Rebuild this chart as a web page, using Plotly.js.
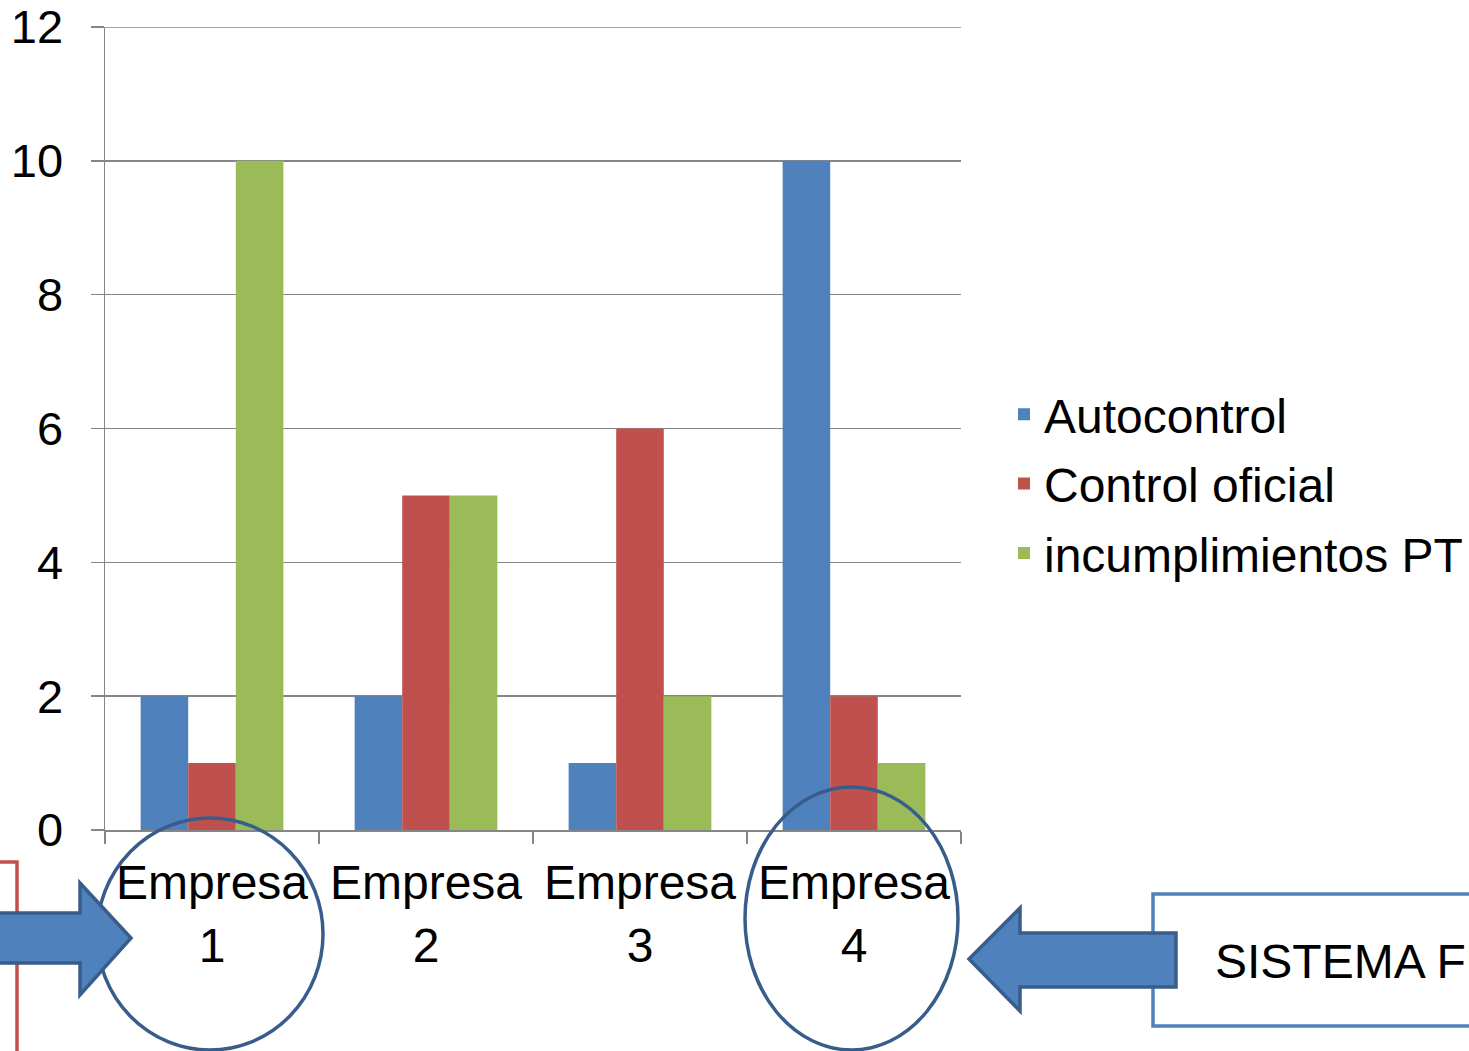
<!DOCTYPE html>
<html>
<head>
<meta charset="utf-8">
<script src="https://cdn.plot.ly/plotly-3.0.1.min.js"></script>
<style>html,body{margin:0;padding:0;background:#fff;}#chart{width:1469px;height:1051px;}</style>
</head>
<body>
<div id="chart"></div>
<script>
const categories = ["Empresa<br>1", "Empresa<br>2", "Empresa<br>3", "Empresa<br>4"];
const seriesNames = ["Autocontrol", "Control oficial", "incumplimientos PT"];
const autocontrol = [2, 2, 1, 10];
const controlOficial = [1, 5, 6, 2];
const incumplimientos = [10, 5, 2, 1];
const yTicks = [0, 2, 4, 6, 8, 10, 12];
const boxText = "SISTEMA FU";

const W = 1469, H = 1051;
const L = 105, R = 961, T = 27, B = 830;
const px = x => (x - L) / (R - L);
const py = y => (B - y) / (B - T);
const poly = pts => pts.map((p, i) => (i ? "L" : "M") + px(p[0]).toFixed(5) + "," + py(p[1]).toFixed(5)).join(" ") + " Z";

const font = "Liberation Sans, Arial, sans-serif";
const colors = ["#4F81BD", "#C0504D", "#9BBB59"];
const values = [autocontrol, controlOficial, incumplimientos];

const data = seriesNames.map((n, i) => ({
  type: "bar", name: n, x: categories, y: values[i], legendgroup: "g" + i,
  marker: {color: colors[i], line: {width: 0}}
}));

const dark = "#385D8A";
const grid = "#868686";
const shapes = [
  {type: "line", xref: "paper", yref: "y", x0: 0, x1: 1, y0: yTicks[yTicks.length - 1], y1: yTicks[yTicks.length - 1],
   layer: "below", line: {color: grid, width: 1.5}},
  {type: "path", xref: "paper", yref: "paper", layer: "above",
   path: "M" + px(0) + "," + py(862) + " L" + px(17) + "," + py(862) + " L" + px(17) + "," + py(1070),
   line: {color: "#C0504D", width: 3.5}, fillcolor: "rgba(0,0,0,0)"},
  {type: "circle", xref: "paper", yref: "paper", layer: "above",
   x0: px(97), x1: px(323), y0: py(818), y1: py(1050),
   line: {color: dark, width: 3.5}, fillcolor: "rgba(0,0,0,0)"},
  {type: "circle", xref: "paper", yref: "paper", layer: "above",
   x0: px(745), x1: px(958), y0: py(787), y1: py(1050),
   line: {color: dark, width: 3.5}, fillcolor: "rgba(0,0,0,0)"},
  {type: "path", xref: "paper", yref: "paper", layer: "above",
   path: poly([[-10,913],[80,913],[80,883],[131,938],[80,995],[80,963],[-10,963]]),
   line: {color: dark, width: 3.5}, fillcolor: "#4F81BD"},
  {type: "rect", xref: "paper", yref: "paper", layer: "above",
   x0: px(1153), x1: px(1490), y0: py(894), y1: py(1026),
   line: {color: "#4F81BD", width: 3.5}, fillcolor: "rgba(0,0,0,0)"},
  {type: "path", xref: "paper", yref: "paper", layer: "above",
   path: poly([[969,959],[1020,908],[1020,933],[1176,933],[1176,987],[1020,987],[1020,1011]]),
   line: {color: dark, width: 3.5}, fillcolor: "#4F81BD"}
];

const layout = {
  width: W, height: H,
  margin: {l: L, r: W - R, t: T, b: H - B, pad: 0, autoexpand: false},
  paper_bgcolor: "#fff", plot_bgcolor: "#fff",
  font: {family: font, size: 48, color: "#000"},
  barmode: "group", bargap: 0.333, bargroupgap: 0,
  showlegend: true,
  legend: {x: px(1004), xanchor: "left", y: py(484), yanchor: "middle",
           traceorder: "grouped", tracegroupgap: 4,
           font: {family: font, size: 48, color: "#000"}, bgcolor: "rgba(0,0,0,0)"},
  xaxis: {type: "category", showgrid: false, showline: true, linecolor: grid, linewidth: 1.5,
          ticks: "outside", tickson: "boundaries", ticklen: 12, tickcolor: grid, tickwidth: 1.5,
          tickfont: {family: font, size: 48, color: "#000"}, ticklabelstandoff: 10,
          automargin: false, fixedrange: true},
  yaxis: {range: [0, 12], tickvals: yTicks, ticktext: yTicks.map(String),
          showgrid: true, gridcolor: grid, gridwidth: 1.5,
          showline: true, linecolor: grid, linewidth: 1.5, zeroline: false,
          ticks: "outside", ticklen: 13, tickcolor: grid, tickwidth: 1.5,
          tickfont: {family: font, size: 47, color: "#000"}, ticklabelstandoff: 18,
          automargin: false, fixedrange: true},
  shapes: shapes,
  annotations: [{xref: "paper", yref: "paper", x: px(1213), y: py(961), xanchor: "left", yanchor: "middle",
                 text: boxText, showarrow: false, font: {family: font, size: 48, color: "#000"}}]
};

Plotly.newPlot("chart", data, layout, {displayModeBar: false, staticPlot: true});
</script>
</body>
</html>
